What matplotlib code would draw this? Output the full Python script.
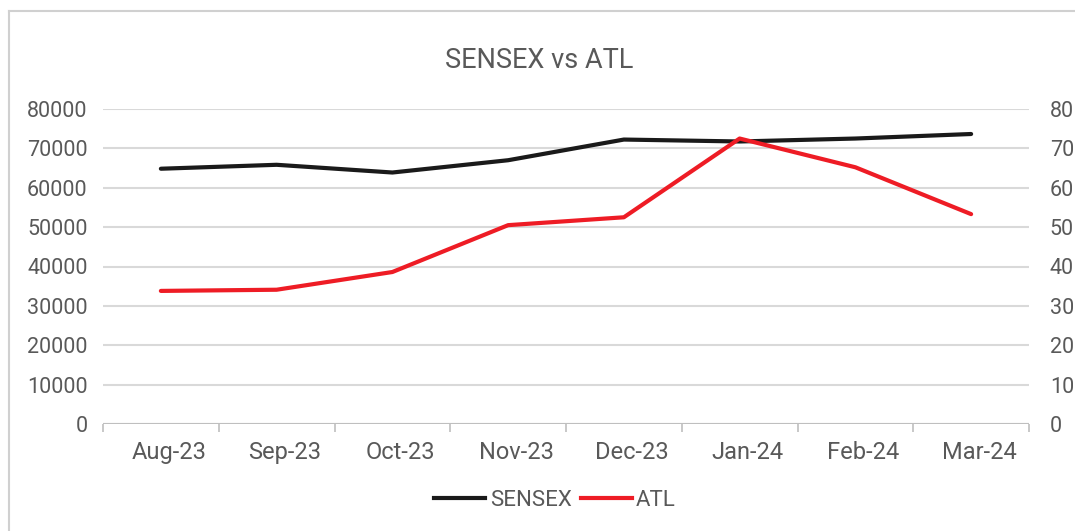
import matplotlib.pyplot as plt
import matplotlib.transforms as mtransforms
from matplotlib.lines import Line2D

months = ["Aug-23", "Sep-23", "Oct-23", "Nov-23", "Dec-23", "Jan-24", "Feb-24", "Mar-24"]
sensex = [64830, 65830, 63870, 66990, 72240, 71750, 72500, 73650]
atl = [33.8, 34.1, 38.6, 50.5, 52.5, 72.5, 65.2, 53.3]

TEXT = "#595959"
GRID = "#d9d9d9"

plt.rcParams["font.family"] = ["Roboto", "DejaVu Sans"]

fig = plt.figure(figsize=(10.75, 5.31), dpi=100)
ax = fig.add_axes([103 / 1075, 1 - 424 / 531, 926 / 1075, 315 / 531])
ax2 = ax.twinx()

x = list(range(len(months)))
ax.plot(x, sensex, color="#1a1a1a", linewidth=3, solid_capstyle="round", zorder=3)
ax2.plot(x, atl, color="#ee1c25", linewidth=3, solid_capstyle="round", zorder=3)

ax.set_xlim(-0.5, len(months) - 0.5)
ax.set_ylim(0, 80000)
ax2.set_ylim(0, 80)
ax.set_yticks(range(0, 80001, 10000))
ax2.set_yticks(range(0, 81, 10))
ax.set_xticks(x)
ax.set_xticklabels(months)
ax.set_xticks([i - 0.5 for i in range(len(months) + 1)], minor=True)

ax.grid(axis="y", color=GRID, linewidth=1.5)
ax.set_axisbelow(True)
for a in (ax, ax2):
    for side in ("top", "right", "left", "bottom"):
        a.spines[side].set_visible(False)
ax.axhline(0, color="#bfbfbf", linewidth=1.5, zorder=2)

ax.tick_params(axis="x", which="major", length=0, pad=12, labelsize=17, labelcolor=TEXT)
ax.tick_params(axis="x", which="minor", length=6, width=1.2, color="#bfbfbf", direction="out")
ax.tick_params(axis="y", length=0, pad=11, labelsize=15.5, labelcolor=TEXT)
ax2.tick_params(axis="y", length=0, pad=15, labelsize=15.5, labelcolor=TEXT)

# labels sit a little right of the category centre, like the original
shift = mtransforms.ScaledTranslation(8 / 100, 0, fig.dpi_scale_trans)
for lbl in ax.get_xticklabels():
    lbl.set_transform(lbl.get_transform() + shift)

fig.text(539 / 1075, 1 - 60 / 531, "SENSEX vs ATL", ha="center", va="center",
         fontsize=19.5, color=TEXT)

handles = [Line2D([], [], color="#1a1a1a", linewidth=3),
           Line2D([], [], color="#ee1c25", linewidth=3)]
fig.legend(handles, ["SENSEX", "ATL"], loc="center", bbox_to_anchor=(555 / 1075, 1 - 500 / 531),
           ncol=2, frameon=False, fontsize=16, labelcolor=TEXT, handlelength=2.3,
           handletextpad=0.2, columnspacing=0.4)

# chart border (only left and top edges fall inside the image)
fig.add_artist(Line2D([9 / 1075, 9 / 1075], [0, 1 - 11 / 531], color="#d0d0d0", linewidth=1.5))
fig.add_artist(Line2D([9 / 1075, 1], [1 - 11 / 531, 1 - 11 / 531], color="#d0d0d0", linewidth=1.5))

fig.savefig("out.png", dpi=100)
